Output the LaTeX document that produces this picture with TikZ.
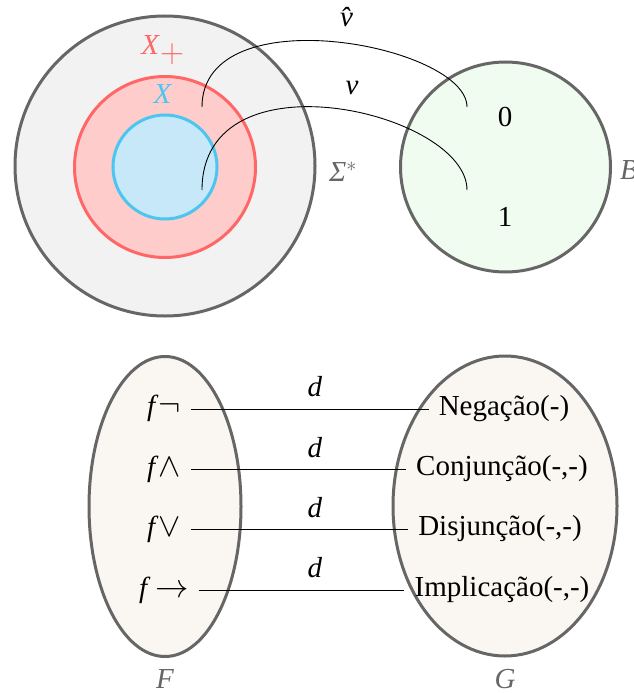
\RequirePackage{fix-cm}
\documentclass[tikz,border=0pt]{standalone}
\usepackage{fontspec}
\setmainfont{Liberation Serif}
\usetikzlibrary{shapes.geometric}
\DeclareMathSizes{29}{29}{20.3}{14.5}
\newcommand{\bigop}[1]{\scalebox{1.15}{$#1$}}
\definecolor{edgegray}{HTML}{666666}
\definecolor{sigmafill}{HTML}{F2F2F2}
\definecolor{redline}{HTML}{FF6666}
\definecolor{redfill}{HTML}{FFCCCC}
\definecolor{blueline}{HTML}{4CC6F0}
\definecolor{bluefill}{HTML}{C6E8F8}
\definecolor{greenfill}{HTML}{F0FCF0}
\definecolor{beigefill}{HTML}{FAF7F2}
\tikzset{
  setcircle/.style={circle, draw=edgegray, line width=3pt, inner sep=0pt},
  setellipse/.style={ellipse, draw=edgegray, fill=beigefill, line width=3pt, inner sep=0pt},
  graylabel/.style={text=edgegray, inner sep=0pt},
  maplabel/.style={inner sep=0pt},
  item/.style={inner sep=10pt},
  mapline/.style={draw=black, line width=0.9pt},
}
\begin{document}
\begin{tikzpicture}[x=1pt,y=-1pt,font=\fontsize{29}{34}\selectfont]
\useasboundingbox (0,0) rectangle (633,693);
% top left sets
\node[setcircle, fill=sigmafill, minimum size=300pt] (sigma) at (165,166) {};
\node[circle, draw=redline, fill=redfill, line width=3pt, inner sep=0pt, minimum size=181pt] (xplus) at (165,167) {};
\node[circle, draw=blueline, fill=bluefill, line width=3pt, inner sep=0pt, minimum size=104pt] (xset) at (165,167) {};
\node[maplabel, text=redline] (xpluslbl) at (163,50) {\textit{X}$_{\bigop{+}}$};
\node[maplabel, text=blueline] (xlbl) at (163,94) {\textit{X}};
\node[graylabel] (sigmalbl) at (343,172) {\textit{Σ}$^*$};
% right set B
\node[setcircle, fill=greenfill, minimum size=210pt] (bset) at (505.5,167) {};
\node[maplabel] (zero) at (505,117) {0};
\node[maplabel] (one) at (505,217) {1};
\node[graylabel, anchor=west] (blbl) at (620,170) {\textit{B}};
% maps
\coordinate (vhs) at (202,107);
\coordinate (vhe) at (467,107);
\coordinate (vs) at (202,190);
\coordinate (ve) at (467,190);
\draw[line width=0.9pt] (vhs) .. controls +(0,-112) and +(0,-62) .. (vhe);
\draw[line width=0.9pt] (vs) .. controls +(0,-140) and +(0,-78) .. (ve);
\node[maplabel] (vhlbl) at (352,17) {\textit{\^v}};
\node[maplabel] (vlbl) at (352,88) {\textit{v}};
% bottom sets
\node[setellipse, minimum width=152pt, minimum height=300pt] (fset) at (165,506.5) {};
\node[setellipse, minimum width=224pt, minimum height=300pt] (gset) at (505,506) {};
\node[graylabel] (flbl) at (165,679) {\textit{F}};
\node[graylabel] (glbl) at (505,679) {\textit{G}};
% items
\node[item] (fneg) at (164,408) {\textit{f}\bigop{\neg}};
\node[item] (fand) at (164,469) {\textit{f}\bigop{\wedge}};
\node[item] (for) at (164,529) {\textit{f}\bigop{\vee}};
\node[item] (fimp) at (164,590) {\textit{f}\,\bigop{\rightarrow}};
\node[item] (neg) at (504,409) {Negação(-)};
\node[item] (conj) at (502,469) {Conjunção(-,-)};
\node[item] (disj) at (500,529) {Disjunção(-,-)};
\node[item] (impl) at (502,590) {Implicação(-,-)};
\draw[mapline] (fneg.east |- neg) -- (neg.west);
\draw[mapline] (fand.east |- conj) -- (conj.west);
\draw[mapline] (for.east |- disj) -- (disj.west);
\draw[mapline] (fimp.east |- impl) -- (impl.west);
\node[maplabel] (d1) at (315,387) {\textit{d}};
\node[maplabel] (d2) at (315,448) {\textit{d}};
\node[maplabel] (d3) at (315,508) {\textit{d}};
\node[maplabel] (d4) at (315,568) {\textit{d}};
\end{tikzpicture}
\end{document}
